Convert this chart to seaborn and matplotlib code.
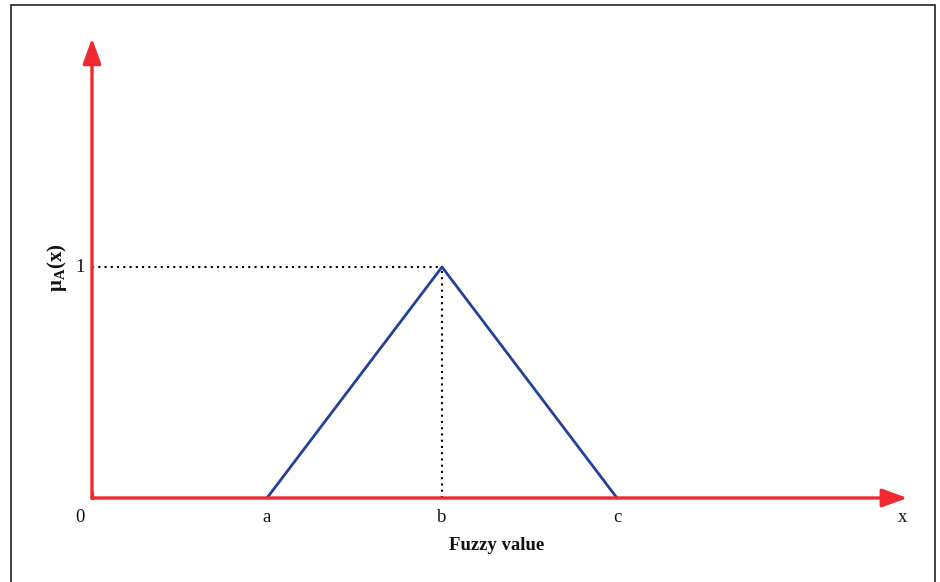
import matplotlib
matplotlib.use("Agg")
import matplotlib.pyplot as plt
import seaborn as sns
import pandas as pd
from matplotlib.patches import Rectangle

# Data
x_points = [1.0, 2.0, 3.0]        # a, b, c
mu_points = [0.0, 1.0, 0.0]
tick_positions = [0.0, 1.0, 2.0, 3.0, 4.63]
tick_labels = ["0", "a", "b", "c", "x"]
y_tick_pos = [1.0]
y_tick_labels = ["1"]

sns.set_theme(style="white")
plt.rcParams['font.family'] = ['Liberation Serif', 'DejaVu Serif']
plt.rcParams['mathtext.fontset'] = 'custom'
plt.rcParams['mathtext.rm'] = 'Liberation Serif'
plt.rcParams['mathtext.bf'] = 'Liberation Serif:bold'
plt.rcParams['mathtext.it'] = 'Liberation Serif:italic'

W, H = 940, 582
fig = plt.figure(figsize=(9.4, 5.82), dpi=100)
ax = fig.add_axes([0, 0, 1, 1])
ox, oy = 92, 498
sx, sy = 175, 231
ax.set_xlim(-ox / sx, (W - ox) / sx)
ax.set_ylim(-(H - oy) / sy, oy / sy)
ax.axis("off")

# Border
fig.patches.append(Rectangle((11 / W, -0.01), (935 - 11) / W, 1 - 5 / H + 0.01,
                             transform=fig.transFigure, fill=False,
                             edgecolor="#222222", linewidth=1.2))

df = pd.DataFrame({"x": x_points, "mu": mu_points})
sns.lineplot(data=df, x="x", y="mu", ax=ax, color="#23409A", linewidth=2.0,
             sort=False, zorder=3)

# Dotted guide lines
bx = x_points[1]
ax.plot([0, bx], [1, 1], linestyle=(0, (1, 2)), color="black", linewidth=1.5, zorder=2)
ax.plot([bx, bx], [0, 1], linestyle=(0, (1, 2)), color="black", linewidth=1.5, zorder=2)

red = "#EE2A2E"
arrow = dict(arrowstyle="-|>,head_length=1.1,head_width=0.4", color=red,
             linewidth=2.4, shrinkA=0, shrinkB=0, mutation_scale=14)
ax.annotate("", xy=(4.66, 0), xytext=(0, 0), arrowprops=arrow, zorder=4)
ax.annotate("", xy=(0, 1.99), xytext=(0, 0), arrowprops=arrow, zorder=4)
ax.plot([0, 0], [0, 0.02], color=red, linewidth=2.4, solid_capstyle="projecting", zorder=4)

fs = 13.5
for p, l in zip(tick_positions, tick_labels):
    xx = p if l != "0" else -12 / sx
    ax.text(xx, -19 / sy, l, ha="center", va="center", fontsize=fs, color="#111111")
for p, l in zip(y_tick_pos, y_tick_labels):
    ax.text(-12 / sx, p, l, ha="center", va="center", fontsize=fs, color="#111111")

ax.text((497 - ox) / sx, -(546 - oy) / sy, "Fuzzy value", ha="center", va="center",
        fontsize=fs, fontweight="bold", color="#111111")
ax.text(-(ox - 57) / sx, (oy - 268) / sy, r"$\mathbf{\mu}_{\mathbf{A}}\mathbf{(x)}$",
        ha="center", va="center", rotation=90, fontsize=15, color="#111111")

fig.savefig("out.png", dpi=100)
